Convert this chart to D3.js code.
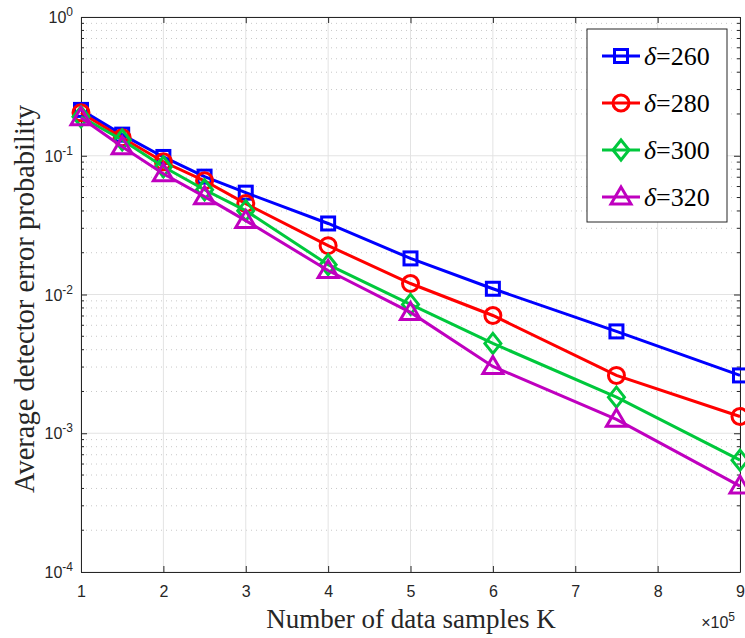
<!DOCTYPE html>
<html>
<head>
<meta charset="utf-8">
<script src="https://cdn.jsdelivr.net/npm/d3@7"></script>
<style>
  body { margin: 0; background: #fff; }
  svg { display: block; }
</style>
</head>
<body>
<div id="chart"></div>
<script>
// data (x in units of 1e5 samples)
var samples = [1, 1.5, 2, 2.5, 3, 4, 5, 6, 7.5, 9];
var err260 = [0.214, 0.142, 0.098, 0.0707, 0.0542, 0.0325, 0.0182, 0.0110, 0.00542, 0.00261];
var err280 = [0.204, 0.135, 0.0905, 0.066, 0.0452, 0.0225, 0.0120, 0.00706, 0.00261, 0.00132];
var err300 = [0.191, 0.130, 0.0833, 0.0569, 0.0402, 0.0164, 0.00848, 0.00444, 0.00182, 0.00064];
var err320 = [0.188, 0.116, 0.0742, 0.0507, 0.0341, 0.0149, 0.00743, 0.00303, 0.00126, 0.000416];
var deltas = ['260', '280', '300', '320'];
var xTicks = [1, 2, 3, 4, 5, 6, 7, 8, 9];
var yTicks = [1e-4, 1e-3, 1e-2, 1e-1, 1];

var width = 745, height = 638;
var margin = {left: 81, right: 5, top: 17, bottom: 66};

var series = [
    {name: deltas[0], values: err260, color: '#0000ff', marker: 'square'},
    {name: deltas[1], values: err280, color: '#ff0000', marker: 'circle'},
    {name: deltas[2], values: err300, color: '#00c83c', marker: 'diamond'},
    {name: deltas[3], values: err320, color: '#bf00bf', marker: 'triangle'}
];

var svg = d3.select('#chart').append('svg')
    .attr('width', width)
    .attr('height', height);

var x = d3.scaleLinear().domain([1, 9]).range([margin.left, width - margin.right]);
var y = d3.scaleLog().domain([1e-4, 1]).range([height - margin.bottom, margin.top]);

var x0 = x.range()[0], x1 = x.range()[1];
var y0 = y.range()[0], y1 = y.range()[1];

//minor grid (dotted) on the log axis
var minorVals = [];
yTicks.slice(0, -1).forEach(function (d) {
    for (var k = 2; k <= 9; k++) minorVals.push(d * k);
});

svg.append('g').selectAll('line')
    .data(minorVals)
    .enter().append('line')
    .attr('x1', x0).attr('x2', x1)
    .attr('y1', function (d) { return y(d); })
    .attr('y2', function (d) { return y(d); })
    .attr('stroke', '#c8c8c8')
    .attr('stroke-width', 1)
    .attr('stroke-dasharray', '1,4');

//major grid
svg.append('g').selectAll('line')
    .data(yTicks)
    .enter().append('line')
    .attr('x1', x0).attr('x2', x1)
    .attr('y1', function (d) { return y(d); })
    .attr('y2', function (d) { return y(d); })
    .attr('stroke', '#e3e3e3')
    .attr('stroke-width', 1);

svg.append('g').selectAll('line')
    .data(xTicks)
    .enter().append('line')
    .attr('y1', y0).attr('y2', y1)
    .attr('x1', function (d) { return x(d); })
    .attr('x2', function (d) { return x(d); })
    .attr('stroke', '#e3e3e3')
    .attr('stroke-width', 1);

//axes with inward ticks
var axisColor = '#262626';
var gx = svg.append('g')
    .attr('transform', 'translate(0,' + y0 + ')')
    .call(d3.axisBottom(x).tickValues(xTicks).tickSizeInner(-6).tickSizeOuter(0).tickPadding(14).tickFormat(d3.format('d')));
var gxt = svg.append('g')
    .attr('transform', 'translate(0,' + y1 + ')')
    .call(d3.axisTop(x).tickValues(xTicks).tickSizeInner(-6).tickSizeOuter(0).tickFormat(''));
var gy = svg.append('g')
    .attr('transform', 'translate(' + x0 + ',0)')
    .call(d3.axisLeft(y).tickValues(yTicks).tickSizeInner(-6).tickSizeOuter(0).tickPadding(10).tickFormat(''));
var gyr = svg.append('g')
    .attr('transform', 'translate(' + x1 + ',0)')
    .call(d3.axisRight(y).tickValues(yTicks).tickSizeInner(-6).tickSizeOuter(0).tickFormat(''));

//minor ticks on left and right
[x0, x1].forEach(function (xx, i) {
    svg.append('g').selectAll('line')
        .data(minorVals)
        .enter().append('line')
        .attr('x1', xx).attr('x2', i === 0 ? xx + 3 : xx - 3)
        .attr('y1', function (d) { return y(d); })
        .attr('y2', function (d) { return y(d); })
        .attr('stroke', axisColor);
});

[gx, gxt, gy, gyr].forEach(function (g) {
    g.select('.domain').attr('stroke', axisColor).attr('stroke-width', 1);
    g.selectAll('.tick line').attr('stroke', axisColor);
});
gx.selectAll('.tick text')
    .attr('fill', axisColor)
    .style('font-family', '"Liberation Sans", Arial, sans-serif')
    .style('font-size', '16px');

//y tick labels as 10^n
var yLab = svg.append('g').selectAll('text')
    .data(yTicks)
    .enter().append('text')
    .attr('x', x0 - 8)
    .attr('y', function (d) { return y(d) + 6; })
    .attr('text-anchor', 'end')
    .attr('fill', axisColor)
    .style('font-family', '"Liberation Sans", Arial, sans-serif')
    .style('font-size', '16px');
yLab.append('tspan').text('10');
yLab.append('tspan')
    .attr('dy', -7)
    .style('font-size', '12px')
    .text(function (d) { return Math.round(Math.log10(d)); });

//exponent note
var note = svg.append('text')
    .attr('x', x1 - 5)
    .attr('y', y0 + 56)
    .attr('text-anchor', 'end')
    .attr('fill', axisColor)
    .style('font-family', '"Liberation Sans", Arial, sans-serif')
    .style('font-size', '16px');
note.append('tspan').text('\u00d710');
note.append('tspan').attr('dy', -7).style('font-size', '12px').text('5');

//axis titles
svg.append('text')
    .attr('x', 411)
    .attr('y', 628)
    .attr('text-anchor', 'middle')
    .style('font-family', '"Liberation Serif", "Times New Roman", serif')
    .style('font-size', '27px')
    .attr('fill', axisColor)
    .text('Number of data samples K');

svg.append('text')
    .attr('transform', 'translate(34,299) rotate(-90)')
    .attr('text-anchor', 'middle')
    .style('font-family', '"Liberation Serif", "Times New Roman", serif')
    .style('font-size', '28.5px')
    .attr('fill', axisColor)
    .text('Average detector error probability');

//marker drawing helper
function drawMarker(g, type, cx, cy, color) {
    if (type === 'square') {
        g.append('rect').attr('x', cx - 6.5).attr('y', cy - 6.5).attr('width', 13).attr('height', 13);
    } else if (type === 'circle') {
        g.append('circle').attr('cx', cx).attr('cy', cy).attr('r', 8);
    } else if (type === 'diamond') {
        g.append('path').attr('d', 'M' + cx + ',' + (cy - 10) + 'L' + (cx + 8) + ',' + cy + 'L' + cx + ',' + (cy + 10) + 'L' + (cx - 8) + ',' + cy + 'Z');
    } else {
        g.append('path').attr('d', 'M' + cx + ',' + (cy - 10) + 'L' + (cx + 10) + ',' + (cy + 7) + 'L' + (cx - 10) + ',' + (cy + 7) + 'Z');
    }
    g.selectAll('*').attr('fill', 'none').attr('stroke', color).attr('stroke-width', 3);
}

var line = d3.line()
    .x(function (d) { return x(d[0]); })
    .y(function (d) { return y(d[1]); });

var plot = svg.append('g');
series.forEach(function (s) {
    var pts = samples.map(function (v, i) { return [v, s.values[i]]; });
    plot.append('path')
        .datum(pts)
        .attr('d', line)
        .attr('fill', 'none')
        .attr('stroke', s.color)
        .attr('stroke-width', 3);
    pts.forEach(function (p) {
        drawMarker(plot.append('g'), s.marker, x(p[0]), y(p[1]), s.color);
    });
});

//legend
var lg = svg.append('g');
lg.append('rect')
    .attr('x', 587).attr('y', 29)
    .attr('width', 140).attr('height', 193)
    .attr('fill', '#fff')
    .attr('stroke', axisColor)
    .attr('stroke-width', 1);
series.forEach(function (s, i) {
    var ly = 56 + i * 47;
    lg.append('line')
        .attr('x1', 602).attr('x2', 640)
        .attr('y1', ly).attr('y2', ly)
        .attr('stroke', s.color).attr('stroke-width', 3);
    drawMarker(lg.append('g'), s.marker, 621, ly, s.color);
    var t = lg.append('text')
        .attr('x', 644).attr('y', ly + 9)
        .style('font-family', '"Liberation Serif", "Times New Roman", serif')
        .style('font-size', '26px')
        .attr('fill', '#000');
    t.append('tspan').style('font-style', 'italic').text('\u03b4');
    t.append('tspan').text('=' + s.name);
});
</script>
</body>
</html>
